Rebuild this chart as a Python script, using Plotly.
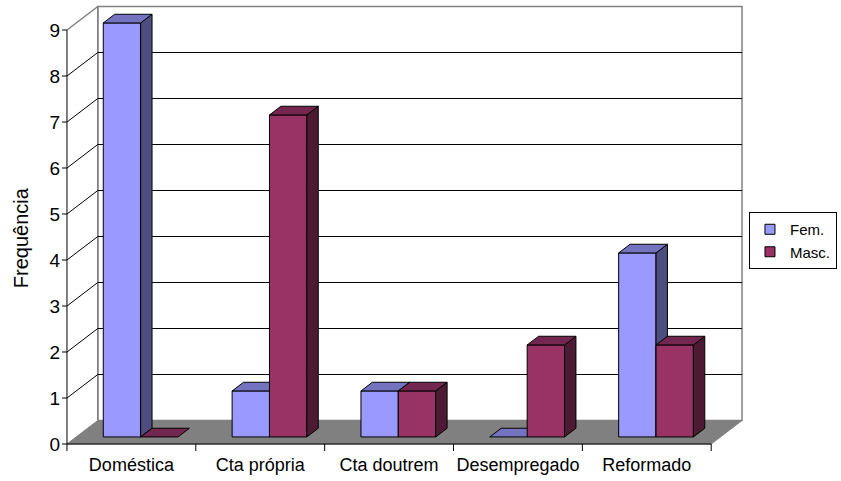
import plotly.graph_objects as go

# ---------------- data ----------------
categories = ["Doméstica", "Cta própria", "Cta doutrem", "Desempregado", "Reformado"]
fem = [9, 1, 1, 0, 4]
masc = [0, 7, 1, 2, 2]
series_names = ["Fem.", "Masc."]
y_ticks = [0, 1, 2, 3, 4, 5, 6, 7, 8, 9]
y_title = "Frequência"

# ---------------- geometry / style ----------------
W, H = 841, 481
PX_U = 129.6          # px per category
PX_V = 46.0           # px per value unit
X0_PX, Y0_PX = 67, 444  # pixel of (0,0) front corner
DX = 31 / PX_U        # depth offset (category units)
DY = 23.5 / PX_V      # depth offset (value units)
F1, F2 = 0.30, 0.67   # bar depth span (fraction of floor depth)
BAR_START, BAR_W = 0.21, 0.29
WALL_TOP = max(y_ticks)
N = len(categories)

LEFT_PX, RIGHT_PX, TOP_PX, BOTTOM_PX = 61, 750, 4, 452
xr = [(LEFT_PX - X0_PX) / PX_U, (RIGHT_PX - X0_PX) / PX_U]
yr = [(Y0_PX - BOTTOM_PX) / PX_V, (Y0_PX - TOP_PX) / PX_V]

FONT = "Arial, Liberation Sans, sans-serif"
colors = [
    {"front": "#9999FF", "top": "#7373BF", "side": "#4D4D80"},
    {"front": "#993366", "top": "#732650", "side": "#4D1A33"},
]
GREY = "#808080"

fig = go.Figure()


def poly(xs, ys, fill, line_color="black", line_width=1):
    fig.add_trace(go.Scatter(
        x=list(xs) + [xs[0]], y=list(ys) + [ys[0]], mode="lines", fill="toself",
        fillcolor=fill, line=dict(color=line_color, width=line_width),
        hoverinfo="skip", showlegend=False))


def seg(xs, ys, color, width=1):
    fig.add_trace(go.Scatter(
        x=xs, y=ys, mode="lines", line=dict(color=color, width=width),
        hoverinfo="skip", showlegend=False))


# back wall
poly([DX, N + DX, N + DX, DX], [DY, DY, WALL_TOP + DY, WALL_TOP + DY], "white", GREY, 1.5)
# side wall
poly([0, DX, DX, 0], [0, DY, WALL_TOP + DY, WALL_TOP], "white", "rgba(0,0,0,0)", 0)
seg([0, DX, DX], [WALL_TOP, WALL_TOP + DY, DY], GREY, 1.5)

# gridlines (side + back wall)
gx, gy = [], []
for v in y_ticks[1:-1]:
    gx += [0, DX, N + DX, None]
    gy += [v, v + DY, v + DY, None]
seg(gx, gy, "black", 1)

# floor
poly([0, N, N + DX, DX], [0, 0, DY, DY], GREY, GREY, 1)

# axis lines
seg([0, 0, N], [WALL_TOP, 0, 0], "black", 1)

# tick marks
tx, ty = [], []
for v in y_ticks:
    tx += [-5 / PX_U, 0, None]
    ty += [v, v, None]
for i in range(N + 1):
    tx += [i, i, None]
    ty += [0, -7 / PX_V, None]
seg(tx, ty, "black", 1)

# bars
ddx, ddy = (F2 - F1) * DX, (F2 - F1) * DY
for i in range(N):
    for s, vals in enumerate([fem, masc]):
        h = vals[i]
        c = colors[s]
        x0 = i + BAR_START + s * BAR_W + F1 * DX
        x1 = x0 + BAR_W
        y0 = F1 * DY
        y1 = h + F1 * DY
        if h > 0:
            poly([x0, x1, x1, x0], [y0, y0, y1, y1], c["front"])
            poly([x1, x1 + ddx, x1 + ddx, x1], [y0, y0 + ddy, y1 + ddy, y1], c["side"])
        poly([x0, x1, x1 + ddx, x0 + ddx], [y1, y1, y1 + ddy, y1 + ddy], c["top"])

# legend entries
for s, name in enumerate(series_names):
    fig.add_trace(go.Scatter(
        x=[None], y=[None], mode="markers", name=name,
        marker=dict(symbol="square", size=10, color=colors[s]["front"],
                    line=dict(color="black", width=1))))

plot_w = RIGHT_PX - LEFT_PX
plot_h = BOTTOM_PX - TOP_PX

fig.add_annotation(
    text=y_title, textangle=-90, xref="paper", yref="paper",
    x=(21 - LEFT_PX) / plot_w, y=(BOTTOM_PX - 238) / plot_h,
    xanchor="center", yanchor="middle", showarrow=False,
    font=dict(family=FONT, size=20, color="black"))

fig.update_layout(
    width=W, height=H,
    margin=dict(l=LEFT_PX, r=W - RIGHT_PX, t=TOP_PX, b=H - BOTTOM_PX, pad=0),
    paper_bgcolor="white", plot_bgcolor="white",
    font=dict(family=FONT, size=17, color="black"),
    xaxis=dict(range=xr, showgrid=False, zeroline=False, showline=False,
               tickmode="array", tickvals=[i + 0.5 for i in range(N)],
               ticktext=categories, ticks="", automargin=False,
               tickfont=dict(size=18)),
    yaxis=dict(range=yr, showgrid=False, zeroline=False, showline=False,
               tickmode="array", tickvals=y_ticks, ticktext=[str(v) for v in y_ticks],
               ticks="", automargin=False, tickfont=dict(size=19)),
    legend=dict(x=(753 - LEFT_PX) / plot_w, y=(BOTTOM_PX - 212) / plot_h,
                xanchor="left", yanchor="top", bordercolor="black", borderwidth=1,
                bgcolor="white", font=dict(family=FONT, size=15), itemwidth=30,
                tracegroupgap=0),
    showlegend=True,
)

fig.write_html("out.html", config={"displayModeBar": False},
               post_script="document.body.style.margin='0';")
